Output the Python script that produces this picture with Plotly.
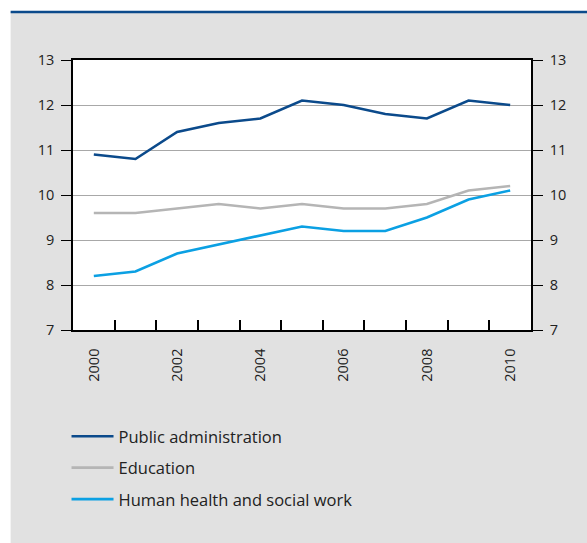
import plotly.graph_objects as go

years = [2000, 2001, 2002, 2003, 2004, 2005, 2006, 2007, 2008, 2009, 2010]
public_admin = [10.9, 10.8, 11.4, 11.6, 11.7, 12.1, 12.0, 11.8, 11.7, 12.1, 12.0]
education = [9.6, 9.6, 9.7, 9.8, 9.7, 9.8, 9.7, 9.7, 9.8, 10.1, 10.2]
health_social = [8.2, 8.3, 8.7, 8.9, 9.1, 9.3, 9.2, 9.2, 9.5, 9.9, 10.1]
year_labels = [2000, 2002, 2004, 2006, 2008, 2010]
y_ticks = [7, 8, 9, 10, 11, 12, 13]

W_PX, H_PX = 587, 543
L, R, T, B = 72.5, 531.5, 60, 330
PW, PH = R - L, B - T


def px_x(px):
    return (px - L) / PW


def px_y(py):
    return (B - py) / PH


font_family = "Open Sans, Noto Sans, sans-serif"
text_color = "#222222"
tick_size = 14.5

fig = go.Figure()
series = [
    ("Public administration", public_admin, "#0b4a8b"),
    ("Education", education, "#b5b5b5"),
    ("Human health and social work", health_social, "#0ba0e3"),
]
for i, (name, vals, color) in enumerate(series):
    fig.add_trace(go.Scatter(
        x=years, y=vals, name=name, mode="lines",
        line=dict(color=color, width=2.6),
        legendgroup=f"g{i}",
    ))

# invisible trace to carry the right-hand axis
fig.add_trace(go.Scatter(x=[years[0]], y=[y_ticks[0]], yaxis="y2",
                         mode="markers", marker=dict(opacity=0),
                         showlegend=False, hoverinfo="skip"))

fig.update_layout(
    width=W_PX, height=H_PX,
    margin=dict(l=L, r=W_PX - R, t=T, b=H_PX - B, pad=0),
    paper_bgcolor="#e1e1e1",
    plot_bgcolor="white",
    font=dict(family=font_family, size=tick_size, color=text_color),
    showlegend=True,
    legend=dict(
        x=px_x(66), y=px_y(419), xanchor="left", yanchor="top",
        bgcolor="rgba(0,0,0,0)", font=dict(size=16.5, color=text_color),
        tracegroupgap=7, itemwidth=42,
    ),
    xaxis=dict(
        range=[1999.5, 2010.5],
        tickvals=year_labels, ticktext=[str(v) for v in year_labels],
        ticks="", tickangle=-90, ticklabelstandoff=11,
        showgrid=False, zeroline=False,
        showline=True, linecolor="black", linewidth=1.5, mirror=True,
        minor=dict(tickvals=[y + 0.5 for y in years[:-1]], ticks="inside",
                   ticklen=10, tickcolor="black", tickwidth=1.5, showgrid=False),
        tickfont=dict(size=tick_size, color=text_color),
    ),
    yaxis=dict(
        range=[7, 13], tickvals=y_ticks,
        ticks="outside", ticklen=10, tickcolor="black", tickwidth=1.3,
        ticklabelstandoff=4,
        showgrid=True, gridcolor="#a8a8a8", gridwidth=1,
        zeroline=False, showline=True, linecolor="black", linewidth=1.5,
        tickfont=dict(size=tick_size, color=text_color),
    ),
    yaxis2=dict(
        range=[7, 13], tickvals=y_ticks, overlaying="y", side="right",
        ticks="outside", ticklen=10, tickcolor="black", tickwidth=1.3,
        ticklabelstandoff=4,
        showgrid=False, zeroline=False, showline=True, linecolor="black",
        linewidth=1.5, tickfont=dict(size=tick_size, color=text_color),
    ),
    shapes=[
        # white surround at top and left of the grey panel
        dict(type="rect", xref="paper", yref="paper", layer="below",
             x0=px_x(-5), x1=px_x(W_PX + 5), y0=px_y(11.5), y1=px_y(-5),
             fillcolor="white", line=dict(width=0)),
        dict(type="rect", xref="paper", yref="paper", layer="below",
             x0=px_x(-5), x1=px_x(10), y0=px_y(H_PX + 5), y1=px_y(-5),
             fillcolor="white", line=dict(width=0)),
        # blue rule along the top of the panel
        dict(type="line", xref="paper", yref="paper", layer="above",
             x0=px_x(10), x1=px_x(W_PX + 5), y0=px_y(12), y1=px_y(12),
             line=dict(color="#0b4a8b", width=2.5)),
    ],
)

fig.write_html("out.html")
